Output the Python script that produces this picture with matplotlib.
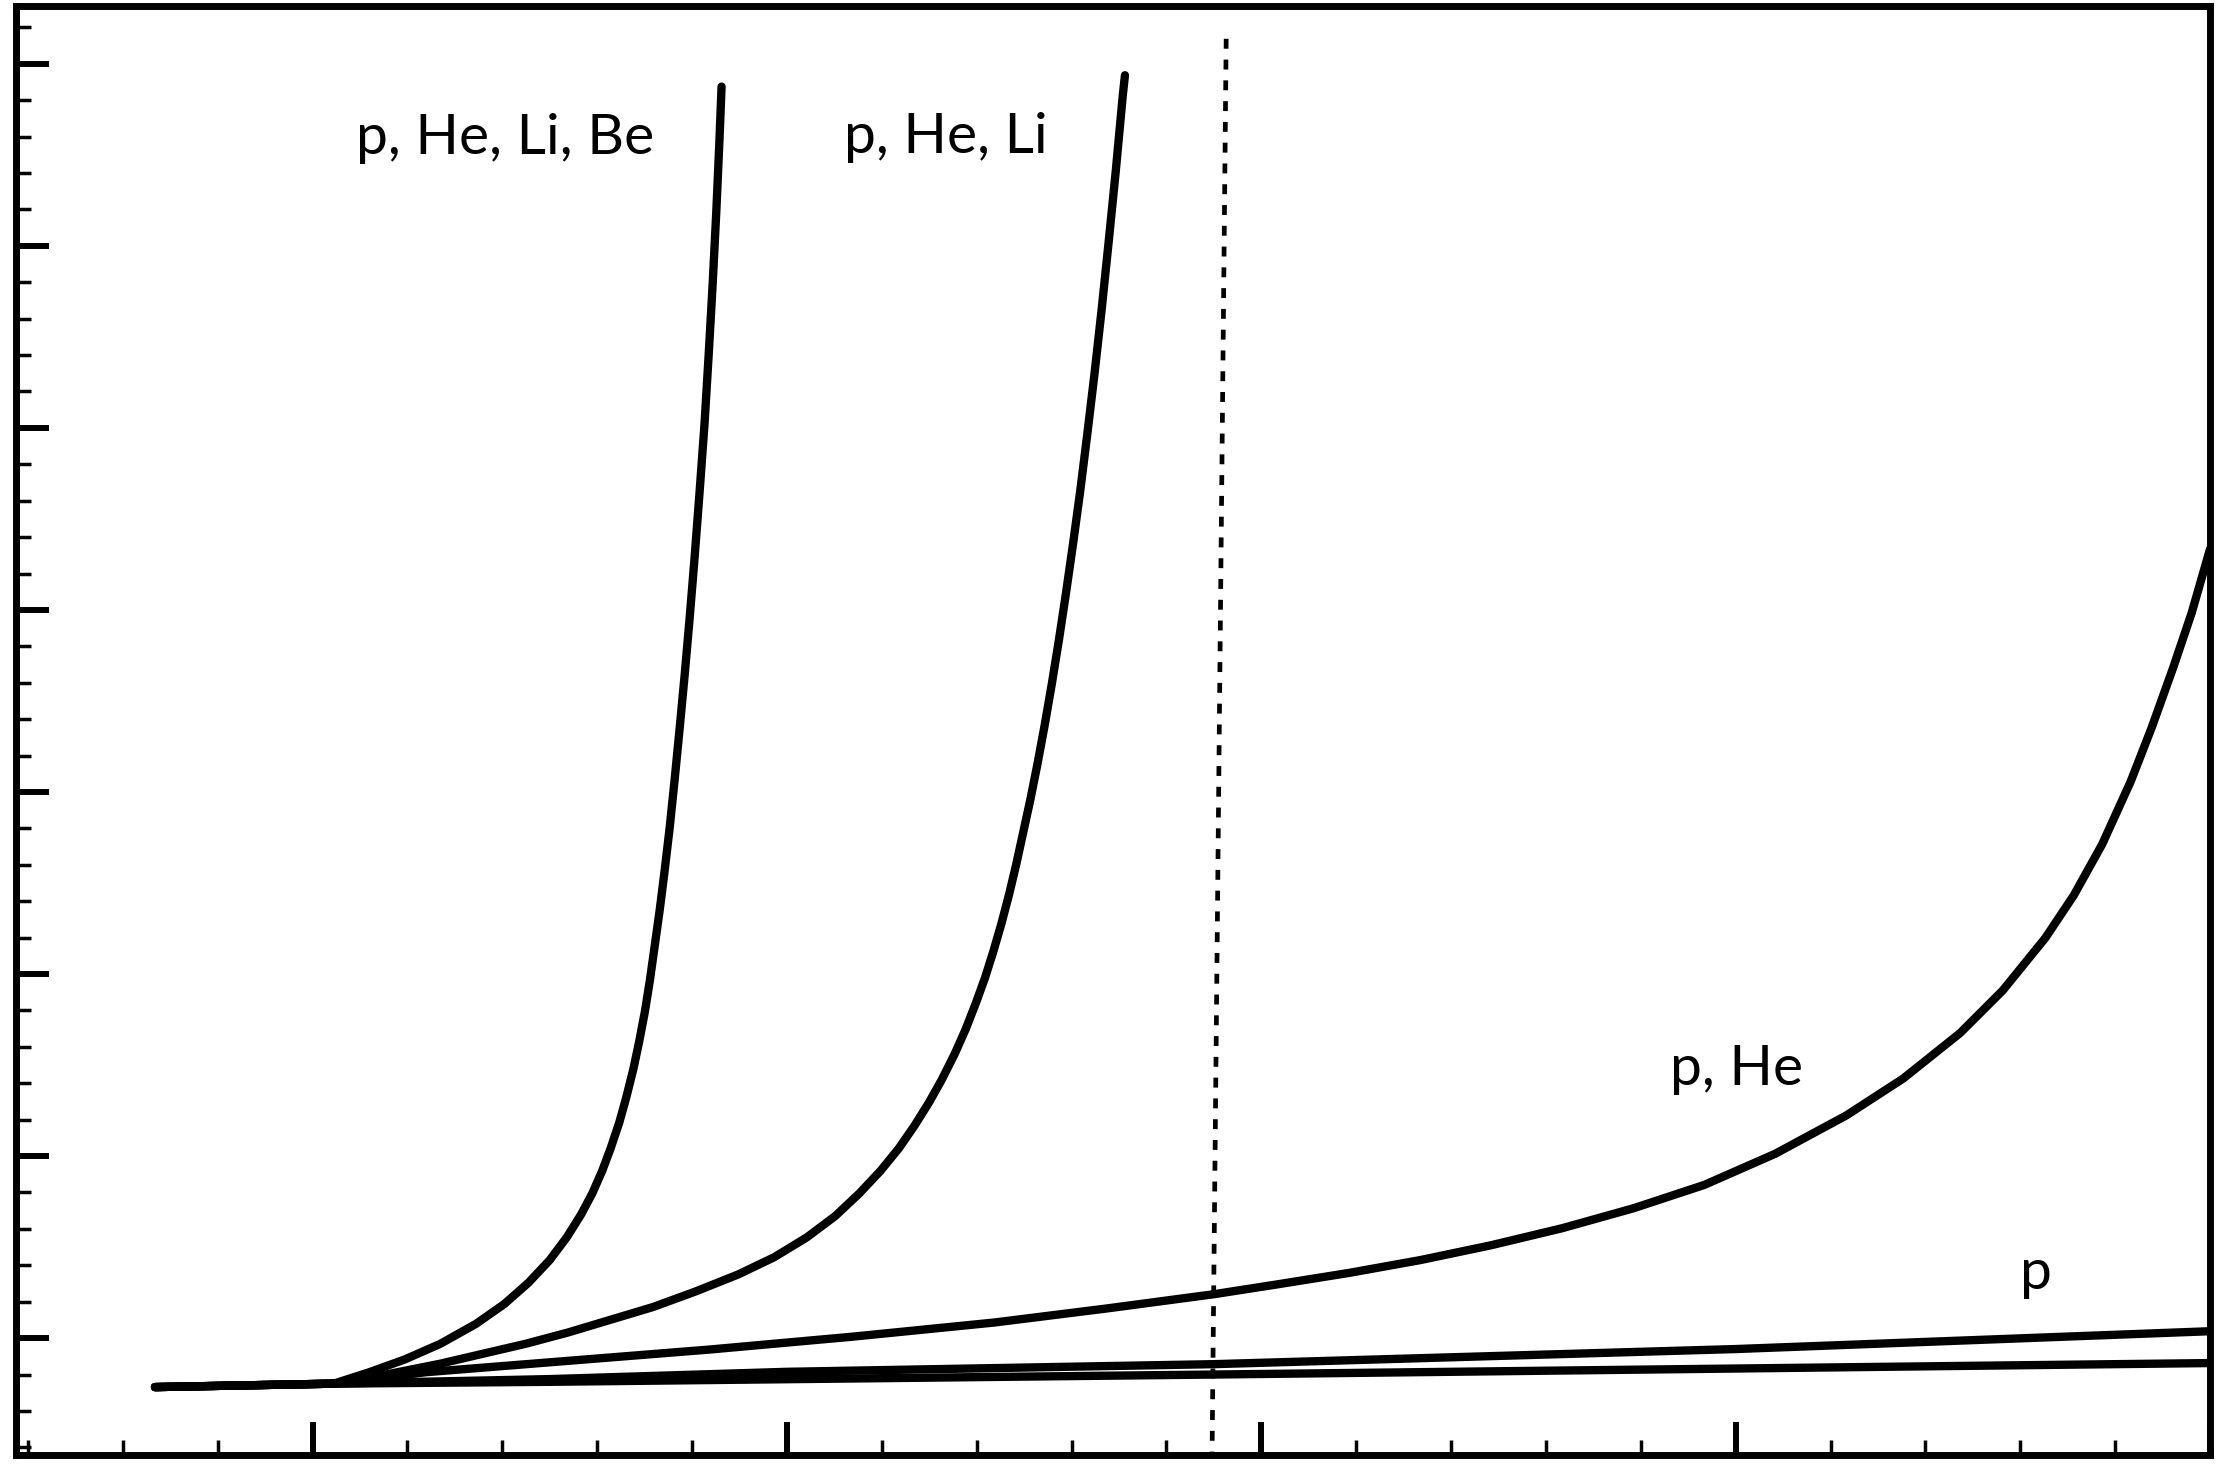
import matplotlib
matplotlib.use("Agg")
import matplotlib.pyplot as plt
from matplotlib.ticker import MultipleLocator, NullFormatter

# common low-energy segment shared by all curves
base_x = [-0.332, 0.045]
base_y = [0.731, 0.750]

# p, He, Li, Be
be_x = [0.1198, 0.1946, 0.2695, 0.3443, 0.4042, 0.4551, 0.5000, 0.5359, 0.5659, 0.5898,
        0.6108, 0.6287, 0.6467, 0.6617, 0.6766, 0.6886, 0.7006, 0.7111, 0.7216, 0.7320,
        0.7425, 0.7530, 0.7635, 0.7740, 0.7844, 0.7949, 0.8054, 0.8159, 0.8263, 0.8353,
        0.8437, 0.8512, 0.8578, 0.8623]
be_y = [0.8129, 0.8831, 0.9688, 1.0779, 1.1871, 1.3040, 1.4287, 1.5534, 1.6781, 1.7950,
        1.9197, 2.0444, 2.1847, 2.3250, 2.4809, 2.6290, 2.7927, 2.9641, 3.1590, 3.3539,
        3.5721, 3.8059, 4.0709, 4.3515, 4.6399, 4.9517, 5.2868, 5.6454, 6.0195, 6.4092,
        6.7989, 7.1886, 7.5783, 7.8745]

# p, He, Li
li_x = [0.0898, 0.1796, 0.2695, 0.3593, 0.4491, 0.5389, 0.6287, 0.7186, 0.8084, 0.8982,
        0.9731, 1.0419, 1.1018, 1.1527, 1.1976, 1.2365, 1.2695, 1.2994, 1.3263, 1.3533,
        1.3772, 1.3982, 1.4177, 1.4356, 1.4521, 1.4686, 1.4835, 1.4985, 1.5135, 1.5284,
        1.5434, 1.5584, 1.5734, 1.5883, 1.6033, 1.6183, 1.6332, 1.6482, 1.6632, 1.6781,
        1.6931, 1.7081, 1.7126]
li_y = [0.7662, 0.8129, 0.8597, 0.9143, 0.9688, 1.0312, 1.1013, 1.1715, 1.2572, 1.3507,
        1.4443, 1.5534, 1.6703, 1.7950, 1.9197, 2.0444, 2.1691, 2.2938, 2.4186, 2.5588,
        2.6991, 2.8394, 2.9797, 3.1278, 3.2759, 3.4396, 3.6033, 3.7825, 3.9618, 4.1567,
        4.3671, 4.5932, 4.8348, 5.0920, 5.3648, 5.6532, 5.9649, 6.2923, 6.6430, 7.0171,
        7.4069, 7.8278, 7.9369]

# p, He
he_x = [0.2395, 0.5389, 0.8383, 1.1377, 1.4371, 1.6766, 1.9012, 2.0359, 2.1856, 2.3353,
        2.4850, 2.6347, 2.7844, 2.9341, 3.0838, 3.2335, 3.3533, 3.4731, 3.5629, 3.6527,
        3.7126, 3.7725, 3.8323, 3.8772, 3.9222, 3.9611, 4.0]
he_y = [0.8129, 0.8753, 0.9376, 1.0078, 1.0857, 1.1637, 1.2416, 1.2962, 1.3585, 1.4287,
        1.5105, 1.6041, 1.7132, 1.8418, 2.0133, 2.2237, 2.4263, 2.6758, 2.9096, 3.1980,
        3.4318, 3.7124, 4.0553, 4.3554, 4.6828, 4.9828, 5.3350]

# p
p_x = [0.5, 1.0, 1.9, 3.0, 4.0]
p_y = [0.775, 0.815, 0.857, 0.94, 1.038]

# reference (lowest line)
ref_x = [0.5, 1.9, 4.0]
ref_y = [0.760, 0.800, 0.863]

# vertical dashed marker
cut_x = [1.926, 1.896]
cut_y = [8.137, 0.30]

labels = ["p, He, Li, Be", "p, He, Li", "p, He", "p"]
label_x = [0.092, 1.121, 2.862, 3.600]
label_y = [7.506, 7.511, 2.393, 1.269]

fig = plt.figure(figsize=(22.27, 14.66), dpi=100)
ax = fig.add_axes([0.0074, 0.0075, 0.985, 0.9885])

lw = 6
for xs, ys in [(be_x, be_y), (li_x, li_y), (he_x, he_y), (p_x, p_y), (ref_x, ref_y)]:
    ax.plot(base_x + xs, base_y + ys, color="black", lw=lw,
            solid_capstyle="round", solid_joinstyle="round")

ax.plot(cut_x, cut_y, color="black", lw=3.4, dashes=(2.1, 2.3))

for txt, tx, ty in zip(labels, label_x, label_y):
    ax.text(tx, ty, txt, fontsize=41, family=["Lato", "DejaVu Sans"],
            ha="left", va="baseline")

ax.set_xlim(-0.624, 4.0)
ax.set_ylim(0.358, 8.318)

ax.xaxis.set_major_locator(MultipleLocator(1))
ax.xaxis.set_minor_locator(MultipleLocator(0.2))
ax.yaxis.set_major_locator(MultipleLocator(1))
ax.yaxis.set_minor_locator(MultipleLocator(0.2))
ax.xaxis.set_major_formatter(NullFormatter())
ax.yaxis.set_major_formatter(NullFormatter())

ax.tick_params(which="both", direction="in", top=False, right=False,
               labelbottom=False, labelleft=False)
ax.tick_params(which="major", length=24, width=4.3)
ax.tick_params(which="minor", length=11, width=2.5)

for sp in ax.spines.values():
    sp.set_linewidth(5)

fig.savefig("out.png", dpi=100)
